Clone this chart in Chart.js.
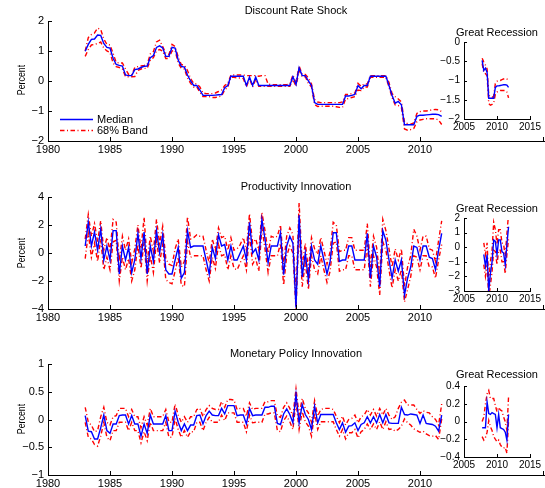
<!DOCTYPE html>
<html>
<head>
<meta charset="utf-8">
<title>Discount rate, productivity and monetary policy shocks</title>
<script src="https://cdn.jsdelivr.net/npm/chart.js@4.4.1/dist/chart.umd.min.js"></script>
<style>
  html, body { margin: 0; padding: 0; background: #fff; }
  #fig { position: relative; width: 545px; height: 488px; overflow: hidden;
         font-family: "Liberation Sans", Arial, sans-serif; color: #000; }
  #fig canvas { position: absolute; }
  .title { position: absolute; font-size: 11px; line-height: 13px; white-space: nowrap;
           transform: translateX(-50%); }
  .ylabel { position: absolute; font-size: 11px; line-height: 11px; white-space: nowrap;
            transform: translate(-50%, -50%) rotate(-90deg) scaleX(0.8); }
  #legend { position: absolute; left: 58px; top: 111px; width: 90px; height: 27px; z-index: 5; }
  #legend svg { position: absolute; left: 0; top: 0; }
  #legend .entry { position: absolute; left: 39px; font-size: 11px; line-height: 13px; white-space: nowrap; }
</style>
</head>
<body>
<div id="fig">
  <div class="title" style="left:296px;top:4px">Discount Rate Shock</div>
  <div class="title" style="left:296px;top:180px">Productivity Innovation</div>
  <div class="title" style="left:296px;top:347px">Monetary Policy Innovation</div>
  <div class="title" style="left:497px;top:26px">Great Recession</div>
  <div class="title" style="left:497px;top:202px">Great Recession</div>
  <div class="title" style="left:497px;top:368px">Great Recession</div>
  <div class="ylabel" style="left:21px;top:80px">Percent</div>
  <div class="ylabel" style="left:21px;top:253px">Percent</div>
  <div class="ylabel" style="left:21px;top:419px">Percent</div>
  <div id="legend">
    <svg width="38" height="27" viewBox="0 0 38 27">
      <line id="legend-median" x1="2" y1="8.5" x2="35" y2="8.5"/>
      <line id="legend-band" x1="2" y1="19.5" x2="35" y2="19.5"/>
    </svg>
    <div class="entry" style="top:2px">Median</div>
    <div class="entry" style="top:13px">68% Band</div>
  </div>
</div>
<script>
// Quarterly estimates, 1983Q1 - 2011Q4 (one row per year)
const firstQuarter = 1983.0;
const quarterStep = 0.25;

const discountMedian = [
  0.99, 1.22, 1.39, 1.40,   1.53, 1.52, 1.25, 1.12,   1.10, 0.76, 0.55, 0.52,
  0.50, 0.20, 0.18, 0.18,   0.38, 0.40, 0.45, 0.49,   0.50, 0.78, 0.85, 1.12,
  1.17, 1.10, 0.82, 0.82,   1.12, 1.10, 0.70, 0.49,   0.46, 0.20, 0.00, -0.15,
  -0.15, -0.30, -0.48, -0.48,   -0.48, -0.48, -0.47, -0.46,   -0.45, -0.22, -0.15, 0.16,
  0.16, 0.16, 0.16, 0.16,   -0.15, 0.13, -0.15, 0.13,   -0.15, -0.15, -0.15, -0.15,
  -0.15, -0.15, -0.15, -0.15,   -0.15, -0.15, -0.15, 0.14,   -0.12, 0.44, 0.18, 0.18,
  0.00, -0.15, -0.72, -0.78,   -0.78, -0.78, -0.78, -0.78,   -0.78, -0.78, -0.78, -0.78,
  -0.50, -0.50, -0.48, -0.45,   -0.15, -0.26, -0.15, -0.15,   0.16, 0.16, 0.16, 0.16,
  0.16, 0.16, -0.15, -0.48,   -0.74, -0.68, -0.79, -1.46,   -1.46, -1.46, -1.46, -1.18,
  -1.14, -1.14, -1.13, -1.12,   -1.11, -1.11, -1.12, -1.18
];
const discountUpper = [
  1.00, 1.45, 1.55, 1.60,   1.76, 1.72, 1.40, 1.22,   1.20, 0.92, 0.62, 0.60,
  0.60, 0.40, 0.22, 0.20,   0.45, 0.48, 0.50, 0.52,   0.55, 0.90, 0.98, 1.30,
  1.36, 1.15, 0.92, 0.88,   1.22, 1.15, 0.80, 0.55,   0.52, 0.35, 0.08, -0.08,
  -0.10, -0.20, -0.40, -0.42,   -0.42, -0.42, -0.40, -0.35,   -0.30, -0.15, -0.08, 0.20,
  0.20, 0.20, 0.20, 0.20,   0.18, 0.18, 0.18, 0.18,   0.16, 0.18, 0.18, -0.10,
  -0.12, -0.12, -0.12, -0.12,   -0.12, -0.12, -0.10, 0.20,   -0.05, 0.50, 0.22, 0.22,
  0.10, -0.10, -0.62, -0.70,   -0.72, -0.72, -0.72, -0.72,   -0.72, -0.72, -0.72, -0.70,
  -0.45, -0.45, -0.42, -0.40,   -0.08, -0.18, -0.10, -0.10,   0.18, 0.18, 0.18, 0.18,
  0.18, 0.18, -0.05, -0.42,   -0.52, -0.60, -0.70, -1.38,   -1.42, -1.44, -1.40, -1.08,
  -1.02, -1.00, -1.00, -0.98,   -0.96, -0.95, -0.96, -1.02
];
const discountLower = [
  0.82, 1.05, 1.20, 1.22,   1.25, 1.30, 1.10, 1.00,   0.95, 0.60, 0.48, 0.45,
  0.40, 0.15, 0.14, 0.14,   0.15, 0.35, 0.40, 0.42,   0.42, 0.68, 0.78, 1.00,
  1.05, 1.00, 0.75, 0.75,   1.00, 1.02, 0.60, 0.42,   0.40, 0.10, -0.08, -0.20,
  -0.20, -0.38, -0.52, -0.52,   -0.52, -0.55, -0.55, -0.52,   -0.50, -0.30, -0.20, 0.12,
  0.12, 0.10, 0.10, 0.08,   -0.20, 0.08, -0.20, 0.06,   -0.18, -0.18, -0.18, -0.18,
  -0.18, -0.18, -0.18, -0.18,   -0.18, -0.18, -0.18, 0.05,   -0.18, 0.35, 0.14, 0.14,
  -0.08, -0.20, -0.78, -0.85,   -0.84, -0.84, -0.84, -0.84,   -0.84, -0.86, -0.88, -0.88,
  -0.60, -0.58, -0.55, -0.52,   -0.30, -0.32, -0.20, -0.20,   0.12, 0.12, 0.12, 0.12,
  0.12, 0.12, -0.20, -0.56,   -0.80, -0.82, -0.88, -1.60,   -1.64, -1.62, -1.58, -1.36,
  -1.30, -1.28, -1.26, -1.26,   -1.26, -1.26, -1.30, -1.45
];

const productivityMedian = [
  0.50, 2.20, 0.50, 1.50,   0.20, 1.70, -0.50, 0.50,   -0.50, 1.60, 1.60, -1.50,
  0.50, -0.50, 0.40, -1.40,   -0.50, 1.40, -0.40, 1.50,   -1.50, 0.50, -0.60, 1.60,
  0.00, 1.30, -1.20, -1.50,   -1.50, -0.50, 0.40, -1.80,   -1.40, 1.60, 0.40, 0.50,
  0.50, 0.50, 0.50, -0.50,   -1.50, 0.40, -0.40, 1.30,   0.50, 0.60, -0.50, 0.50,
  -0.50, -0.50, 0.00, 0.50,   -0.50, 2.20, 0.00, 0.30,   -0.50, 2.40, 1.00, -0.70,
  0.50, 0.50, 0.50, 1.45,   -1.55, 0.50, 1.20, 0.70,   -3.90, 2.70, -1.70, 0.00,
  -1.95, 0.50, -0.50, -0.80,   0.50, -0.50, -1.50, -0.60,   1.45, 1.45, -0.60, -0.50,
  -0.50, 0.50, 0.50, -0.50,   -0.50, -0.50, -0.50, 1.40,   -1.80, 0.50, -0.30, -2.40,
  1.60, 0.90, -0.50, -1.80,   -0.50, -1.30, -0.50, -3.00,   -1.80, -1.00, 0.50, 0.40,
  -0.50, 0.50, 0.50, -0.30,   -0.40, -1.20, 0.20, 1.40
];
const productivityUpper = [
  1.00, 2.75, 1.20, 2.10,   0.80, 2.30, 0.20, 1.10,   0.20, 2.40, 2.20, -0.60,
  1.20, 0.20, 1.00, -0.70,   0.30, 2.00, 0.30, 2.55,   -0.70, 1.20, 0.10, 2.40,
  0.70, 1.90, -0.40, -0.80,   -0.90, 0.30, 1.00, -1.00,   -0.60, 2.60, 1.00, 1.10,
  1.30, 1.20, 1.20, 0.20,   -0.70, 1.00, 0.20, 1.80,   1.10, 1.20, 0.20, 1.10,
  0.20, 0.30, 0.60, 1.10,   0.20, 2.80, 0.70, 1.00,   0.20, 2.90, 1.60, 0.00,
  1.20, 1.10, 1.20, 2.00,   -0.80, 1.20, 1.80, 1.30,   -3.00, 3.60, -0.90, 0.70,
  -1.20, 1.10, 0.30, -0.10,   1.10, 0.20, -0.80, 0.10,   2.20, 2.00, 0.10, 0.20,
  0.20, 1.10, 1.10, 0.20,   0.20, 0.20, 0.20, 2.10,   -1.00, 1.20, 0.40, -1.60,
  2.40, 1.60, 0.30, -1.00,   0.30, -0.50, 0.30, -2.40,   -1.00, -0.20, 1.70, 1.20,
  0.20, 1.20, 1.20, 0.30,   0.20, -0.60, 0.90, 2.30
];
const productivityLower = [
  -0.40, 1.40, -0.30, 0.70,   -0.60, 1.00, -1.20, -0.30,   -1.20, 0.80, 0.90, -2.00,
  -0.30, -1.20, -0.40, -2.00,   -1.20, 0.60, -1.10, 0.80,   -2.00, -0.20, -1.40, 0.90,
  -0.70, 0.60, -1.90, -2.10,   -2.20, -1.30, -0.30, -2.30,   -2.40, 0.80, -0.30, -0.20,
  -0.20, -0.20, -0.20, -1.20,   -2.00, -0.30, -1.10, 0.60,   -0.20, -0.10, -1.20, -0.20,
  -1.10, -1.20, -0.70, -0.20,   -1.20, 1.40, -0.80, -0.40,   -1.30, 1.80, 0.30, -1.40,
  -0.20, -0.20, -0.20, 0.70,   -2.30, -0.20, 0.50, 0.00,   -4.00, 1.80, -2.40, -0.70,
  -2.60, -0.20, -1.20, -1.50,   -0.20, -1.20, -2.10, -1.30,   0.70, 0.80, -1.30, -1.20,
  -1.20, -0.20, -0.20, -1.20,   -1.20, -1.20, -1.20, 0.60,   -2.40, -0.20, -1.00, -3.00,
  0.80, 0.20, -1.20, -2.50,   -1.20, -2.00, -1.20, -3.50,   -2.60, -1.70, -0.20, -0.30,
  -1.20, -0.20, -0.20, -1.00,   -1.00, -1.80, -0.50, 0.60
];

const monetaryMedian = [
  0.07, -0.21, -0.22, -0.35,   -0.35, -0.15, 0.08, -0.20,   -0.25, -0.08, -0.08, 0.07,
  0.08, 0.08, -0.08, 0.07,   -0.08, -0.08, -0.30, -0.08,   -0.25, 0.08, -0.08, -0.08,
  -0.08, -0.08, 0.07, -0.20,   -0.20, 0.15, -0.05, -0.20,   -0.08, -0.20, -0.10, -0.10,
  0.07, 0.08, -0.08, 0.07,   0.15, 0.08, 0.07, 0.07,   0.20, 0.10, 0.25, 0.25,
  0.25, 0.07, 0.08, 0.08,   -0.08, 0.20, 0.07, 0.08,   0.08, 0.08, 0.22, 0.22,
  0.24, 0.24, -0.07, -0.09,   0.10, 0.19, 0.09, -0.06,   0.45, -0.06, 0.27, 0.09,
  0.00, -0.18, 0.24, -0.06,   0.09, 0.09, 0.09, 0.09,   0.09, -0.06, -0.18, -0.06,
  -0.23, -0.12, -0.11, -0.06,   -0.20, -0.09, -0.06, 0.05,   -0.06, 0.05, -0.06, 0.09,
  -0.06, 0.09, -0.06, -0.07,   -0.07, -0.07, 0.22, 0.09,   0.08, 0.10, 0.09, 0.08,
  -0.07, 0.08, -0.07, -0.08,   -0.09, -0.12, -0.21, 0.08
];
const monetaryUpper = [
  0.22, -0.05, -0.10, -0.22,   -0.20, 0.05, 0.22, -0.05,   -0.10, 0.05, 0.07, 0.20,
  0.20, 0.20, 0.05, 0.18,   0.05, 0.05, -0.15, 0.05,   -0.10, 0.20, 0.05, 0.05,
  0.05, 0.05, 0.18, -0.05,   -0.05, 0.28, 0.08, -0.05,   0.05, -0.05, 0.05, 0.05,
  0.18, 0.20, 0.05, 0.18,   0.25, 0.20, 0.18, 0.18,   0.32, 0.22, 0.36, 0.36,
  0.35, 0.18, 0.20, 0.20,   0.06, 0.30, 0.18, 0.20,   0.20, 0.20, 0.32, 0.32,
  0.34, 0.34, 0.06, 0.04,   0.22, 0.30, 0.20, 0.06,   0.55, 0.08, 0.38, 0.20,
  0.12, -0.05, 0.34, 0.06,   0.18, 0.20, 0.20, 0.20,   0.18, 0.06, -0.06, 0.06,
  -0.10, 0.00, 0.02, 0.08,   -0.06, 0.05, 0.08, 0.18,   0.08, 0.18, 0.06, 0.20,
  0.08, 0.20, 0.08, 0.00,   0.05, 0.20, 0.31, 0.35,   0.26, 0.26, 0.26, 0.18,
  0.11, 0.16, 0.13, 0.12,   0.05, 0.00, -0.10, 0.28
];
const monetaryLower = [
  -0.05, -0.32, -0.35, -0.45,   -0.48, -0.30, -0.05, -0.32,   -0.38, -0.20, -0.20, -0.05,
  -0.05, -0.05, -0.20, -0.05,   -0.20, -0.20, -0.42, -0.22,   -0.38, -0.05, -0.20, -0.20,
  -0.20, -0.20, -0.05, -0.32,   -0.32, 0.02, -0.18, -0.32,   -0.20, -0.32, -0.22, -0.22,
  -0.05, -0.05, -0.20, -0.05,   0.04, -0.05, -0.05, -0.05,   0.08, -0.02, 0.12, 0.12,
  0.12, -0.05, -0.05, -0.05,   -0.22, 0.08, -0.06, -0.05,   -0.05, -0.05, 0.10, 0.10,
  0.12, 0.12, -0.20, -0.22,   -0.02, 0.06, -0.04, -0.18,   0.32, -0.18, 0.14, -0.04,
  -0.12, -0.30, 0.12, -0.18,   -0.04, -0.04, -0.04, -0.04,   -0.04, -0.18, -0.30, -0.18,
  -0.35, -0.24, -0.24, -0.18,   -0.33, -0.22, -0.18, -0.08,   -0.18, -0.08, -0.18, -0.04,
  -0.18, -0.04, -0.18, -0.17,   -0.21, -0.18, -0.12, 0.01,   -0.06, -0.10, -0.17, -0.20,
  -0.23, -0.21, -0.26, -0.29,   -0.30, -0.29, -0.36, 0.01
];

// Axis ticks
const mainYearTicks = [1980, 1985, 1990, 1995, 2000, 2005, 2010];
const insetYearTicks = [2005, 2010, 2015];
const discountTicks = [-2, -1, 0, 1, 2];
const productivityTicks = [-4, -2, 0, 2, 4];
const monetaryTicks = [-1, -0.5, 0, 0.5, 1];
const discountInsetTicks = [-2, -1.5, -1, -0.5, 0];
const productivityInsetTicks = [-3, -2, -1, 0, 1, 2];
const monetaryInsetTicks = [-0.4, -0.2, 0, 0.2, 0.4];

// First quarter shown in each "Great Recession" close-up
const discountInsetStart = 2007.75;
const productivityInsetStart = 2008.0;
const monetaryInsetStart = 2007.75;

const quarters = discountMedian.map((_, i) => firstQuarter + i * quarterStep);

Chart.defaults.font.family = '"Liberation Sans", Arial, sans-serif';
Chart.defaults.color = '#000';

const MEDIAN_COLOR = '#0000ff';
const BAND_COLOR = '#ff0000';
const LINE_WIDTH = 1.4;
const BAND_DASH = [4.5, 2.5, 1, 2.5];

// Legend samples share the series styles
const medianSample = document.getElementById('legend-median');
medianSample.setAttribute('stroke', MEDIAN_COLOR);
medianSample.setAttribute('stroke-width', LINE_WIDTH);
const bandSample = document.getElementById('legend-band');
bandSample.setAttribute('stroke', BAND_COLOR);
bandSample.setAttribute('stroke-width', LINE_WIDTH);
bandSample.setAttribute('stroke-dasharray', BAND_DASH.join(' '));

function fmt(v) {
  const s = String(Math.round(v * 100) / 100);
  return s.replace('-', '\u2212');
}

function lineSets(t, med, up, lo) {
  const pts = arr => arr.map((v, i) => ({ x: t[i], y: v }));
  const base = { pointRadius: 0, borderWidth: LINE_WIDTH, tension: 0, fill: false };
  return [
    { ...base, label: 'Median', data: pts(med), borderColor: MEDIAN_COLOR },
    { ...base, label: '68% Band', data: pts(up), borderColor: BAND_COLOR, borderDash: BAND_DASH },
    { ...base, label: '68% Band', data: pts(lo), borderColor: BAND_COLOR, borderDash: BAND_DASH }
  ];
}

function sliceFrom(startYear, t, ...series) {
  const k = t.findIndex(v => v >= startYear - 1e-9);
  return [t.slice(k), ...series.map(s => s.slice(k))];
}

// Short tick marks pointing into the plot area
const inwardTicks = {
  id: 'inwardTicks',
  afterDraw(chart, _args, o) {
    const { ctx, chartArea: a } = chart;
    const xs = chart.scales.x, ys = chart.scales.y;
    ctx.save();
    ctx.strokeStyle = '#000';
    ctx.lineWidth = 1;
    ctx.beginPath();
    xs.ticks.forEach(t => {
      const p = Math.round(xs.getPixelForValue(t.value)) + 0.5;
      ctx.moveTo(p, a.bottom); ctx.lineTo(p, a.bottom - o.len);
    });
    if (o.endTick) {
      const p = Math.round(a.right) - 0.5;
      ctx.moveTo(p, a.bottom); ctx.lineTo(p, a.bottom - o.len);
    }
    ys.ticks.forEach(t => {
      const p = Math.round(ys.getPixelForValue(t.value)) + 0.5;
      ctx.moveTo(a.left, p); ctx.lineTo(a.left + o.len, p);
    });
    ctx.stroke();
    ctx.restore();
  }
};

const fig = document.getElementById('fig');

function makeChart(box, datasets, axes) {
  const cv = document.createElement('canvas');
  cv.width = box.w; cv.height = box.h;
  cv.style.left = box.left + 'px'; cv.style.top = box.top + 'px';
  cv.style.width = box.w + 'px'; cv.style.height = box.h + 'px';
  fig.insertBefore(cv, fig.firstChild);
  const axisLine = { display: true, color: '#000', width: 1 };
  const noGrid = { display: true, drawOnChartArea: false, drawTicks: false };
  return new Chart(cv, {
    type: 'line',
    data: { datasets },
    options: {
      responsive: false,
      animation: false,
      events: [],
      layout: { padding: { top: box.padTop, right: box.padRight, left: 0, bottom: 0 } },
      plugins: {
        legend: { display: false },
        tooltip: { enabled: false },
        title: { display: false },
        inwardTicks: { len: box.tick, endTick: box.endTick }
      },
      scales: {
        x: {
          type: 'linear', min: axes.xMin, max: axes.xMax,
          afterBuildTicks: s => { s.ticks = axes.xTicks.map(v => ({ value: v })); },
          afterFit: s => { s.height = box.xHeight; },
          ticks: { autoSkip: false, maxRotation: 0, padding: box.xPad,
                   font: { size: box.font }, color: '#000', callback: v => String(v) },
          grid: noGrid,
          border: axisLine
        },
        y: {
          type: 'linear', min: axes.yMin, max: axes.yMax,
          afterBuildTicks: s => { s.ticks = axes.yTicks.map(v => ({ value: v })); },
          afterFit: s => { s.width = box.yWidth; },
          ticks: { autoSkip: false, padding: box.yPad,
                   font: { size: box.font }, color: '#000', callback: v => fmt(v) },
          grid: noGrid,
          border: axisLine
        }
      }
    },
    plugins: [inwardTicks]
  });
}

const mainBox = { left: 0, w: 545, padRight: 1, yWidth: 48, tick: 4, endTick: true, font: 11, xPad: 2, yPad: 4, padTop: 21 };
const insetBox = { left: 410, w: 135, padRight: 15, yWidth: 54, tick: 3, endTick: false, font: 10, xPad: 2, yPad: 4, padTop: 12, xHeight: 16 };

// Discount Rate Shock
makeChart({ ...mainBox, top: 0, h: 162, xHeight: 21 },
  lineSets(quarters, discountMedian, discountUpper, discountLower),
  { xMin: 1980, xMax: 2020, xTicks: mainYearTicks, yMin: -2, yMax: 2, yTicks: discountTicks });

// Productivity Innovation
makeChart({ ...mainBox, top: 176, h: 152, xHeight: 19 },
  lineSets(quarters, productivityMedian, productivityUpper, productivityLower),
  { xMin: 1980, xMax: 2020, xTicks: mainYearTicks, yMin: -4, yMax: 4, yTicks: productivityTicks });

// Monetary Policy Innovation
makeChart({ ...mainBox, top: 343, h: 145, xHeight: 13 },
  lineSets(quarters, monetaryMedian, monetaryUpper, monetaryLower),
  { xMin: 1980, xMax: 2020, xTicks: mainYearTicks, yMin: -1, yMax: 1, yTicks: monetaryTicks });

// Great Recession close-ups
makeChart({ ...insetBox, top: 30, h: 105 },
  lineSets(...sliceFrom(discountInsetStart, quarters, discountMedian, discountUpper, discountLower)),
  { xMin: 2005, xMax: 2015, xTicks: insetYearTicks, yMin: -2, yMax: 0, yTicks: discountInsetTicks });

makeChart({ ...insetBox, top: 206, h: 101 },
  lineSets(...sliceFrom(productivityInsetStart, quarters, productivityMedian, productivityUpper, productivityLower)),
  { xMin: 2005, xMax: 2015, xTicks: insetYearTicks, yMin: -3, yMax: 2, yTicks: productivityInsetTicks });

makeChart({ ...insetBox, top: 374, h: 99 },
  lineSets(...sliceFrom(monetaryInsetStart, quarters, monetaryMedian, monetaryUpper, monetaryLower)),
  { xMin: 2005, xMax: 2015, xTicks: insetYearTicks, yMin: -0.4, yMax: 0.4, yTicks: monetaryInsetTicks });
</script>
</body>
</html>
